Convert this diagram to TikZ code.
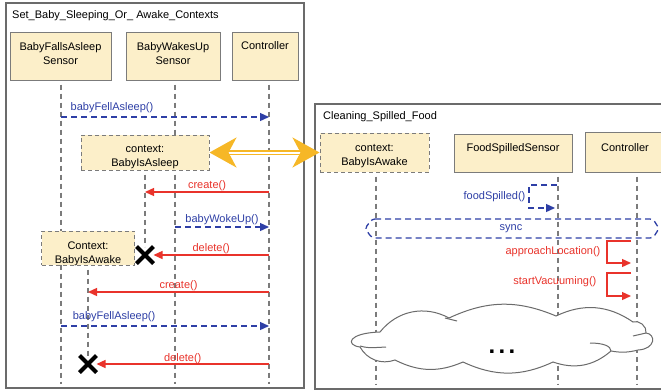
\documentclass[tikz,border=0pt]{standalone}
\usepackage{fontspec}
\setmainfont{Liberation Sans}
\usetikzlibrary{arrows.meta,shapes.misc}
\definecolor{objfill}{HTML}{FCEFC9}
\definecolor{objline}{HTML}{7B7B7B}
\definecolor{framegray}{HTML}{6B6B6B}
\definecolor{asyncblue}{HTML}{2E3FA6}
\definecolor{callred}{HTML}{E9332B}
\definecolor{bridgegold}{HTML}{F6B726}

\begin{document}
\begin{tikzpicture}[x=1pt,y=-1pt,font=\fontsize{11}{14}\selectfont,
    >={Triangle[length=9pt,width=8pt]},
    frame/.style={draw=framegray, line width=1.6pt},
    object/.style={draw=objline, fill=objfill, line width=1pt, align=center, inner xsep=0pt, inner ysep=0pt},
    context/.style={object, dash pattern=on 4pt off 3pt},
    lifeline/.style={draw=objline, line width=1.1pt, dash pattern=on 5pt off 4pt, dash phase=5pt},
    async/.style={->, draw=asyncblue, text=asyncblue, line width=1.3pt, dash pattern=on 6pt off 4pt},
    call/.style={->, draw=callred, text=callred, line width=1.3pt},
    kill/.style={cross out, draw=black, line width=4pt, minimum size=13pt, inner sep=0pt},
    cloudline/.style={draw=framegray, line width=1pt},
    bridge/.style={{Stealth[length=27pt,width=30pt,inset=8pt]}-{Stealth[length=27pt,width=30pt,inset=8pt]},
                   draw=bridgegold, line width=1.6pt, double=white, double distance=2pt}]

  \fill[white, use as bounding box] (0,0) rectangle (661,391);
  \clip (0,0) rectangle (661,391);

  \draw[frame] (6,3) rectangle (304,388);
  \draw[frame] (315,104) rectangle (700,389);
  \node[anchor=west, inner sep=0pt] (title-left)  at (12,16)  {Set\_Baby\_Sleeping\_Or\_ Awake\_Contexts};
  \node[anchor=west, inner sep=0pt] (title-right) at (323,117) {Cleaning\_Spilled\_Food};

  \node[object, minimum width=101pt, text height=32pt, text depth=16pt] (falls-asleep)     at (60.5,56) {BabyFallsAsleep\\Sensor};
  \node[object, minimum width=94pt,  text height=32pt, text depth=16pt] (wakes-up)         at (173,56)  {BabyWakesUp\\Sensor};
  \node[object, minimum width=66pt,  text height=17pt, text depth=31pt] (controller)       at (265,56)  {Controller};
  \node[context, minimum width=109pt, text height=32pt, text depth=7pt] (awake-right)      at (374.5,152.5) {context:\\BabyIsAwake};
  \node[object, minimum width=118pt, text height=17pt, text depth=21pt] (food-spilled)     at (513,153) {FoodSpilledSensor};
  \node[object, minimum width=80pt,  text height=19pt, text depth=21pt] (controller-right) at (625,152) {Controller};

  \foreach \obj/\x in {falls-asleep/61, wakes-up/175, controller/269, awake-right/376, food-spilled/558, controller-right/637} {
    \coordinate (\obj-end) at (\x,384);
    \draw[lifeline] (\obj.south -| \obj-end) -- (\obj-end);
  }

  \draw[cloudline, fill=white]
    (380,332) to[bend left=40] (449,318) to[bend left=24] (556,316) to[bend left=30] (633,322)
    to[bend left=60] (646,333) .. controls (656,334) and (656,349) .. (638,350)
    to[bend left=12] (611,351) to[bend left=30] (553,362) to[bend left=25] (463,362)
    to[bend left=25] (395,360) to[bend left=40] (360,347) .. controls (345,345) and (348,333) .. (380,332) -- cycle;
  \draw[cloudline]
    (360,346) .. controls (368,348) .. (386,347)
    (445,318) .. controls (451,319) .. (457,321)
    (646,333) .. controls (640,334) .. (633,336)
    (590,343) .. controls (603,343) and (611,346) .. (611,351);
  \node[font=\bfseries\fontsize{24}{24}\selectfont, inner sep=0pt, anchor=base] (dots) at (502,353) {.\kern3.3pt.\kern3.3pt.};

  \node[context, minimum width=128pt, text height=31pt, text depth=4pt] (context-asleep) at (145,152.5) {context:\\BabyIsAsleep};
  \node[context, minimum width=93pt,  text height=32pt, text depth=2pt] (context-awake)  at (88,248)    {Context:\\BabyIsAwake};
  \node[kill] (kill-asleep) at (145,255) {};
  \node[kill] (kill-awake)  at (88,364)  {};
  \draw[lifeline] (context-asleep) -- (kill-asleep);
  \draw[lifeline] (context-awake)  -- (kill-awake);

  \coordinate (fell-from)          at (61,117);
  \coordinate (fell-to)            at (269,117);
  \coordinate (create-asleep-from) at (269,192);
  \coordinate (create-asleep-to)   at (145,192);
  \coordinate (woke-from)          at (175,227);
  \coordinate (woke-to)            at (269,227);
  \coordinate (delete-asleep-from) at (269,255);
  \coordinate (create-awake-from)  at (269,292);
  \coordinate (create-awake-to)    at (88,292);
  \coordinate (fell-again-from)    at (61,326);
  \coordinate (fell-again-to)      at (269,326);
  \coordinate (delete-awake-from)  at (269,364);
  \coordinate (spill-from)         at (557,185);
  \coordinate (spill-to)           at (555,208);
  \coordinate (approach-from)      at (631,241);
  \coordinate (approach-to)        at (631,263);
  \coordinate (vacuum-from)        at (631,273);
  \coordinate (vacuum-to)          at (631,296);

  \path
    (fell-from)          edge [async] node [above, inner sep=4pt, pos=.245] {babyFellAsleep()} (fell-to)
    (create-asleep-from) edge [call]  node [above, inner sep=1pt]           {create()}         (create-asleep-to)
    (woke-from)          edge [async] node [above, inner sep=2pt]           {babyWokeUp()}     (woke-to)
    (delete-asleep-from) edge [call]  node [above, inner sep=1pt]           {delete()}         (kill-asleep)
    (create-awake-from)  edge [call]  node [above, inner sep=1pt]           {create()}         (create-awake-to)
    (fell-again-from)    edge [async] node [above, inner sep=4pt, pos=.255] {babyFellAsleep()} (fell-again-to)
    (delete-awake-from)  edge [call]  node [above, inner sep=0pt]           {delete()}         (kill-awake);

  \draw[async] (spill-from) -- ++(-28,0) |- node [pos=.25, left=3pt, inner sep=0pt] {foodSpilled()} (spill-to);
  \draw[call] (approach-from) -- ++(-24,0) |- node [pos=.25, left=6pt, inner sep=0pt] {approachLocation()} (approach-to);
  \draw[call] (vacuum-from) -- ++(-24,0) |- node [pos=.18, left=10pt, inner sep=0pt] {startVacuuming()} (vacuum-to);

  \draw[draw=asyncblue, line width=1.3pt, dash pattern=on 6pt off 4pt, rounded corners=3pt]
    (372,219) -- (653,219) -- (659,228.5) -- (653,238) -- (372,238) -- (365,228.5) -- cycle;
  \node[text=asyncblue] (sync) at (511,228.5) {sync};

  \draw[bridge] (context-asleep) -- (awake-right);
\end{tikzpicture}
\end{document}
